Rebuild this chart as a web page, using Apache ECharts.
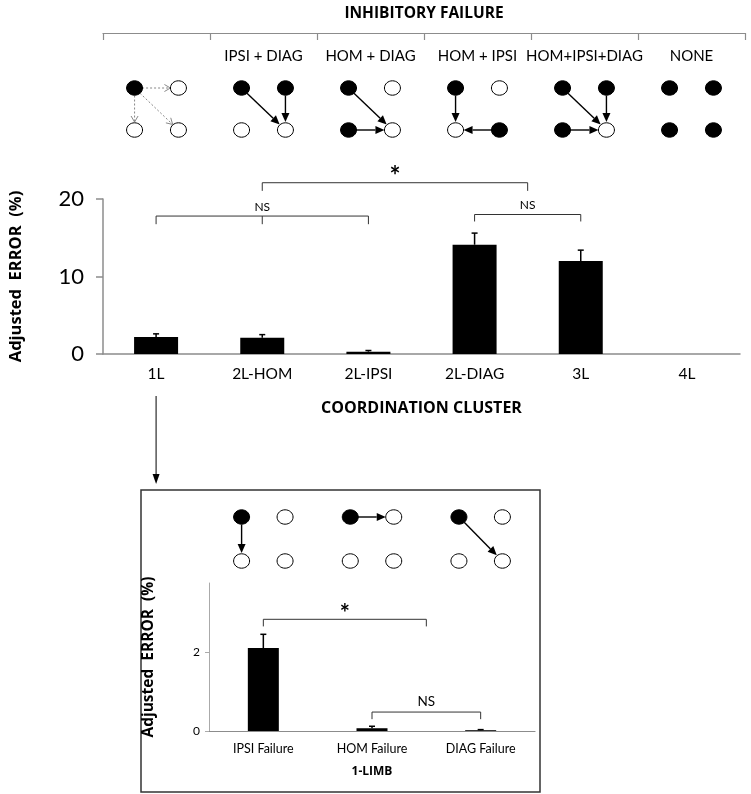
<!DOCTYPE html>
<html>
<head>
<meta charset="utf-8">
<script src="https://cdn.jsdelivr.net/npm/echarts@6/dist/echarts.min.js"></script>
<style>
html, body { margin: 0; padding: 0; background: #fff; }
#chart { width: 751px; height: 794px; }
</style>
</head>
<body>
<div id="chart"></div>
<script>
const clusters = ["1L", "2L-HOM", "2L-IPSI", "2L-DIAG", "3L", "4L"];
const failureLabels = ["", "IPSI + DIAG", "HOM + DIAG", "HOM + IPSI", "HOM+IPSI+DIAG", "NONE"];
const clusterError = [2.2, 2.1, 0.3, 14.1, 12.0, 0];
const clusterErrTop = [2.6, 2.5, 0.45, 15.6, 13.4, 0];
const mainTicks = [0, 10, 20];

const limbFailures = ["IPSI Failure", "HOM Failure", "DIAG Failure"];
const limbError = [2.1, 0.07, 0.02];
const limbErrTop = [2.45, 0.12, 0.035];
const insetTicks = [0, 2];

// limb state per diagram, order TL TR BL BR (1 = filled)
const clusterNodes = ["1000", "1100", "1010", "1001", "1110", "1111"];
// arrows "from>to" between the node indexes above
const clusterArrows = [["0>1", "0>2", "0>3"], ["0>3", "1>3"], ["0>3", "2>3"], ["0>2", "3>2"], ["0>3", "1>3", "2>3"], []];
const dashedDiagrams = [0];
const limbNodes = ["1000", "1000", "1000"];
const limbArrows = [["0>2"], ["0>1"], ["0>3"]];

// significance brackets: [from, to, level, drop, label]
const mainBrackets = [[0, 2, 17.8, 1.05, "NS"], [1, 3.5, 22.1, 1.05, "*"], [3, 4, 18.0, 0.9, "NS"]];
const mainMidTicks = [[1, 17.8, 1.05]];
const insetBrackets = [[0, 1.5, 2.83, 0.18, "*"], [1, 2, 0.48, 0.18, "NS"]];

const FONT = "Lato, sans-serif";
const BOLD = "'Open Sans', sans-serif";
const GRAY = "#8c8c8c";
const YNAME = "Adjusted  ERROR  (%)";

const chart = echarts.init(document.getElementById("chart"));

function arrowShape(p0, p1, r, dashed) {
  const dx = p1[0] - p0[0], dy = p1[1] - p0[1];
  const len = Math.hypot(dx, dy);
  const ux = dx / len, uy = dy / len, nx = -uy, ny = ux;
  const s = [p0[0] + ux * r, p0[1] + uy * r];
  const e = [p1[0] - ux * (r + 0.5), p1[1] - uy * (r + 0.5)];
  const hl = dashed ? 6 : 9, hw = dashed ? 3.5 : 4;
  const b = [e[0] - ux * hl, e[1] - uy * hl];
  const w1 = [b[0] + nx * hw, b[1] + ny * hw], w2 = [b[0] - nx * hw, b[1] - ny * hw];
  if (dashed) {
    return {
      type: "group",
      children: [
        { type: "line", shape: { x1: s[0], y1: s[1], x2: e[0], y2: e[1] }, style: { stroke: "#888", lineWidth: 1, lineDash: [2, 2] } },
        { type: "polyline", shape: { points: [w1, e, w2] }, style: { stroke: "#888", lineWidth: 1, fill: null } },
      ],
    };
  }
  return {
    type: "group",
    children: [
      { type: "line", shape: { x1: s[0], y1: s[1], x2: b[0], y2: b[1] }, style: { stroke: "#000", lineWidth: 1.4 } },
      { type: "polygon", shape: { points: [e, w1, w2] }, style: { fill: "#000" } },
    ],
  };
}

function diagramRender(nodes, arrows, dashedList, off) {
  return function (params, api) {
    const i = params.dataIndex;
    const c = api.value(0);
    const pts = [[c - off, 0], [c + off, 0], [c - off, 1], [c + off, 1]].map((p) => api.coord(p));
    const children = [];
    arrows[i].forEach((a) => {
      const [f, t] = a.split(">").map(Number);
      children.push(arrowShape(pts[f], pts[t], 7.5, dashedList.includes(i)));
    });
    pts.forEach((p, k) => {
      children.push({
        type: "ellipse",
        shape: { cx: p[0], cy: p[1], rx: 8, ry: 7.2 },
        style: { fill: nodes[i][k] === "1" ? "#000" : "#fff", stroke: "#000", lineWidth: 1 },
      });
    });
    return { type: "group", children };
  };
}

function errorRender(capHalf) {
  return function (params, api) {
    const base = api.coord([api.value(0), api.value(1)]);
    const top = api.coord([api.value(0), api.value(2)]);
    return {
      type: "group",
      children: [
        { type: "line", shape: { x1: base[0], y1: base[1], x2: top[0], y2: top[1] }, style: { stroke: "#000", lineWidth: 1.5 } },
        { type: "line", shape: { x1: top[0] - capHalf, y1: top[1], x2: top[0] + capHalf, y2: top[1] }, style: { stroke: "#000", lineWidth: 1.5 } },
      ],
    };
  };
}

function bracketRender(list, nsFont, starFont) {
  return function (params, api) {
    const b = list[params.dataIndex];
    const a = api.coord([b[0], b[2]]), z = api.coord([b[1], b[2]]);
    const a2 = api.coord([b[0], b[2] - b[3]]), z2 = api.coord([b[1], b[2] - b[3]]);
    const star = b[4] === "*";
    return {
      type: "group",
      children: [
        { type: "polyline", shape: { points: [a2, a, z, z2] }, style: { stroke: "#333", lineWidth: 1, fill: null } },
        {
          type: "text",
          style: {
            text: b[4], x: (a[0] + z[0]) / 2, y: star ? a[1] + 7 : a[1] - 3,
            align: "center", verticalAlign: "bottom", textAlign: "center", textVerticalAlign: "bottom",
            font: star ? starFont : nsFont, fill: "#000",
          },
        },
      ],
    };
  };
}

function midTickRender(params, api) {
  const t = mainMidTicks[params.dataIndex];
  const a = api.coord([t[0], t[1]]), b = api.coord([t[0], t[1] - t[2]]);
  return { type: "line", shape: { x1: a[0], y1: a[1], x2: b[0], y2: b[1] }, style: { stroke: "#333", lineWidth: 1 } };
}

const hiddenY = (min, max, gridIndex, inverse) => ({ type: "value", gridIndex, min, max, inverse: !!inverse, show: false });
const hiddenX = (min, max, gridIndex) => ({ type: "value", gridIndex, min, max, show: false });

const option = {
  animation: false,
  backgroundColor: "#fff",
  textStyle: { fontFamily: FONT },
  grid: [
    { left: 103, top: 199, width: 637, height: 155 }, // main chart
    { left: 103, top: 33, width: 642, height: 10 }, // header bracket
    { left: 103, top: 88, width: 642, height: 42 }, // header diagrams
    { left: 209, top: 583, width: 326, height: 148 }, // inset chart
    { left: 209, top: 517, width: 326, height: 44 }, // inset diagrams
  ],
  xAxis: [
    {
      type: "category", gridIndex: 0, data: clusters,
      axisLine: { onZero: false, lineStyle: { color: GRAY, width: 1.5 } },
      axisTick: { length: 8, interval: 0, lineStyle: { color: GRAY, width: 1.5 } },
      axisLabel: { color: "#000", fontSize: 15.5, margin: 12, interval: 0, fontFamily: FONT },
      name: "COORDINATION CLUSTER", nameLocation: "middle", nameGap: 46,
      nameTextStyle: { color: "#000", fontSize: 16, fontWeight: "bold", fontFamily: BOLD, verticalAlign: "top" },
    },
    hiddenX(-0.5, 5.5, 0),
    {
      type: "category", gridIndex: 1, data: failureLabels, position: "top",
      axisLine: { onZero: false, lineStyle: { color: GRAY, width: 1.2 } },
      axisTick: { show: true, inside: true, interval: 0, length: 7, lineStyle: { color: GRAY, width: 1.2 } },
      axisLabel: { inside: true, interval: 0, color: "#000", fontSize: 15, margin: 16, fontFamily: FONT },
      name: "INHIBITORY FAILURE", nameLocation: "middle", nameGap: 11,
      nameTextStyle: { color: "#000", fontSize: 15.5, fontWeight: "bold", fontFamily: BOLD },
    },
    hiddenX(-0.5, 5.5, 2),
    {
      type: "category", gridIndex: 3, data: limbFailures,
      axisLine: { onZero: false, lineStyle: { color: GRAY, width: 1.2 } },
      axisTick: { length: 4, interval: 0, lineStyle: { color: GRAY } },
      axisLabel: { color: "#000", fontSize: 12.5, margin: 11, interval: 0, fontFamily: FONT },
      name: "1-LIMB", nameLocation: "middle", nameGap: 35,
      nameTextStyle: { color: "#000", fontSize: 12, fontWeight: "bold", fontFamily: BOLD, verticalAlign: "top" },
    },
    hiddenX(-0.5, 2.5, 3),
    hiddenX(-0.5, 2.5, 4),
  ],
  yAxis: [
    {
      type: "value", gridIndex: 0, min: 0, max: 20, interval: 10,
      splitLine: { show: false },
      axisLine: { show: true, onZero: false, lineStyle: { color: GRAY, width: 1.5 } },
      axisTick: { show: true, length: 7, lineStyle: { color: GRAY, width: 1.5 }, customValues: mainTicks },
      axisLabel: { color: "#000", fontSize: 22, margin: 19, fontFamily: FONT, customValues: mainTicks },
      name: YNAME, nameLocation: "middle", nameGap: 78, nameRotate: 90,
      nameTextStyle: { color: "#000", fontSize: 16.5, fontWeight: "bold", fontFamily: BOLD },
    },
    hiddenY(0, 1, 1),
    hiddenY(0, 1, 2, true),
    {
      type: "value", gridIndex: 3, min: 0, max: 3.75, interval: 2,
      splitLine: { show: false },
      axisLine: { show: true, onZero: false, lineStyle: { color: "#aaa", width: 1 } },
      axisTick: { show: true, length: 4, lineStyle: { color: "#aaa" }, customValues: insetTicks },
      axisLabel: { color: "#000", fontSize: 12, margin: 9, fontFamily: FONT, customValues: insetTicks },
      name: YNAME, nameLocation: "middle", nameGap: 52, nameRotate: 90,
      nameTextStyle: { color: "#000", fontSize: 15.5, fontWeight: "bold", fontFamily: BOLD },
    },
    hiddenY(0, 1, 4, true),
  ],
  series: [
    {
      type: "bar", xAxisIndex: 0, yAxisIndex: 0, data: clusterError, barWidth: 44,
      itemStyle: { color: "#000" }, silent: true,
    },
    {
      type: "custom", xAxisIndex: 1, yAxisIndex: 0,
      data: clusters.map((c, i) => [i, clusterError[i], clusterErrTop[i]]).filter((d) => d[2] > d[1]),
      renderItem: errorRender(3), silent: true,
    },
    {
      type: "custom", xAxisIndex: 1, yAxisIndex: 0,
      data: mainBrackets.map((b) => [b[0], b[2]]),
      renderItem: bracketRender(mainBrackets, "12px " + FONT, "bold 26px " + FONT), silent: true,
    },
    {
      type: "custom", xAxisIndex: 1, yAxisIndex: 0,
      data: mainMidTicks.map((t) => [t[0], t[1]]),
      renderItem: midTickRender, silent: true,
    },
    {
      type: "custom", xAxisIndex: 3, yAxisIndex: 2,
      data: clusters.map((c, i) => [i, 0]),
      renderItem: diagramRender(clusterNodes, clusterArrows, dashedDiagrams, 0.205), silent: true,
    },
    {
      type: "bar", xAxisIndex: 4, yAxisIndex: 3, data: limbError, barWidth: 31,
      itemStyle: { color: "#000" }, silent: true,
    },
    {
      type: "custom", xAxisIndex: 5, yAxisIndex: 3,
      data: limbFailures.map((c, i) => [i, limbError[i], limbErrTop[i]]),
      renderItem: errorRender(3), silent: true,
    },
    {
      type: "custom", xAxisIndex: 5, yAxisIndex: 3,
      data: insetBrackets.map((b) => [b[0], b[2]]),
      renderItem: bracketRender(insetBrackets, "13.5px " + FONT, "bold 24px " + FONT), silent: true,
    },
    {
      type: "custom", xAxisIndex: 6, yAxisIndex: 4,
      data: limbFailures.map((c, i) => [i, 0]),
      renderItem: diagramRender(limbNodes, limbArrows, [], 0.2), silent: true,
    },
  ],
};

chart.setOption(option);

// pointer from the 1L cluster down to the 1-limb breakdown box
const ax = chart.convertToPixel({ xAxisIndex: 1 }, 0);
chart.setOption({
  graphic: [
    { type: "line", shape: { x1: ax, y1: 396, x2: ax, y2: 475 }, style: { stroke: "#000", lineWidth: 1 } },
    { type: "polygon", shape: { points: [[ax - 3.5, 474], [ax + 3.5, 474], [ax, 484]] }, style: { fill: "#000" } },
    { type: "rect", shape: { x: 141, y: 490, width: 399, height: 302 }, style: { fill: null, stroke: "#333", lineWidth: 1.5 } },
  ],
});
</script>
</body>
</html>
